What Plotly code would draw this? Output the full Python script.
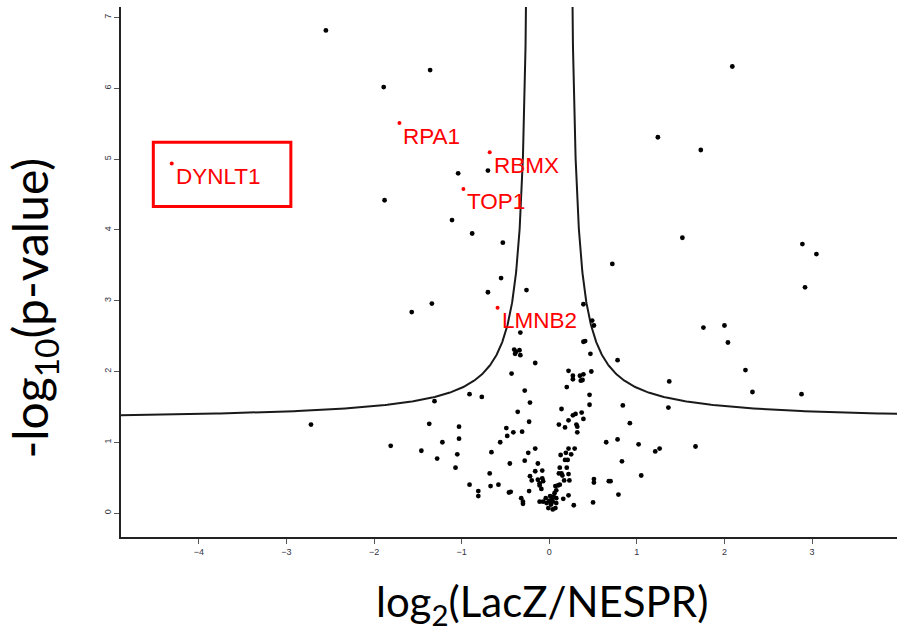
import numpy as np
import plotly.graph_objects as go

# log2 fold change (LacZ / NESPR) and -log10 p-value for every protein
log2_fc = [
    -2.55, -1.36, -1.89, 2.09, 1.24, 1.73, 1.52, 0.72, 2.89, 3.05, 2.92,
    -1.04, -0.70, -1.88, -1.11, -0.88, -0.53, -0.55, -0.70, -0.26, -1.34, -1.57,
    0.39, 0.49, 0.51, -0.33, 0.39, 0.41,
    1.76, 2.00, 2.04, 0.78, 2.24, 2.32, 1.37, 2.88, 0.84, 1.36, 1.67,
    -0.40, -0.38, -0.34, -0.39, -0.33,
    0.47, -0.16, -0.43, 0.22, 0.48,
    0.27, 0.27, 0.35, 0.39, 0.36, 0.38,
    0.20, -0.28, 0.46, -0.91, -0.77, -1.31, -0.22, 0.46, 0.14, -0.36,
    0.27, 0.30, 0.37, 0.39,
    -0.23, 0.11, 0.18, 0.22, 0.31, 0.32, 0.32, 0.92, -1.37, -1.03,
    -0.49, -0.48, -0.41, -0.31,
    -1.03, -1.22, -0.56, 0.65, 0.78, 1.02, 1.26, 1.21,
    -1.46, -1.28, -1.05, -1.07, -0.66, -0.16, -0.24, -0.28, -0.45,
    0.22, 0.29, 0.19, 0.25, 0.13,
    0.18, 0.21, 0.12, 0.20,
    0.83, -0.13, -0.68,
    -0.16, -0.08, -0.22, -0.20, -0.13, -0.11, -0.07, -0.11, -0.09, -0.08, -0.23,
    0.11, 0.14, 0.15, 0.22, 0.17, 0.23,
    0.51, 0.51, 0.68, 0.70, 1.05,
    -0.91, -0.67, -0.58, -0.81, -0.81, -0.46, -0.44, -0.32, -0.30, -0.30,
    0.07, 0.10, 0.12, 0.08, 0.06, 0.05, 0.08, 0.03, 0.00, 0.04,
    -0.03, 0.02, -0.01, 0.04, 0.07, 0.08, -0.07, -0.11, -0.04, 0.01,
    0.16, 0.22, 0.28, 0.50, 0.79,
    -2.72, -1.81,
]
neg_log10_p = [
    6.82, 6.26, 6.02, 6.31, 5.31, 5.13, 3.89, 3.52, 3.80, 3.66, 3.19,
    4.80, 4.84, 4.42, 4.14, 3.95, 3.82, 3.32, 3.12, 3.15, 2.96, 2.84,
    2.95, 2.72, 2.65, 2.55, 2.42, 2.43,
    2.62, 2.65, 2.41, 2.16, 2.02, 1.71, 1.86, 1.68, 1.52, 1.49, 0.94,
    2.31, 2.28, 2.30, 2.25, 2.23,
    2.25, 2.12, 1.97, 2.01, 2.00,
    1.94, 1.89, 1.94, 1.96, 1.87, 1.88,
    1.78, 1.73, 1.67, 1.68, 1.64, 1.58, 1.56, 1.53, 1.47, 1.43,
    1.38, 1.40, 1.42, 1.33,
    1.29, 1.25, 1.21, 1.31, 1.25, 1.22, 1.14, 1.27, 1.26, 1.22,
    1.20, 1.09, 1.14, 1.15,
    1.05, 1.00, 1.00, 1.00, 1.04, 0.97, 0.91, 0.87,
    0.88, 0.77, 0.83, 0.64, 0.86, 0.91, 0.85, 0.74, 0.70,
    0.91, 0.91, 0.85, 0.83, 0.82,
    0.75, 0.75, 0.64, 0.64,
    0.73, 0.70, 0.56,
    0.59, 0.60, 0.52, 0.46, 0.47, 0.42, 0.45, 0.39, 0.34, 0.49, 0.31,
    0.56, 0.56, 0.53, 0.55, 0.46, 0.46,
    0.48, 0.43, 0.45, 0.45, 0.53,
    0.40, 0.38, 0.40, 0.31, 0.24, 0.29, 0.30, 0.21, 0.16, 0.13,
    0.38, 0.39, 0.40, 0.32, 0.28, 0.23, 0.21, 0.20, 0.17, 0.16,
    0.14, 0.12, 0.07, 0.05, 0.07, 0.14, 0.16, 0.16, 0.21, 0.24,
    0.20, 0.25, 0.11, 0.15, 0.26,
    1.25, 0.95,
]

# Highlighted hits
hit_names = ["DYNLT1", "RPA1", "RBMX", "TOP1", "LMNB2"]
hit_fc = [-4.31, -1.71, -0.68, -0.98, -0.59]
hit_p = [4.94, 5.51, 5.10, 4.58, 2.90]

# Significance threshold curve: y = y0 + c / (|x| - x0)
y0 = -np.log10(0.05)
x0 = 0.20
c_curve = 0.375

x_range = [-4.889, 3.970]
y_range = [-0.339, 7.151]
x_ticks = [-4, -3, -2, -1, 0, 1, 2, 3]
y_ticks = [0, 1, 2, 3, 4, 5, 6, 7]

fig = go.Figure()

# threshold curve, both branches
d = np.geomspace(1e-3, 5.0, 600)   # |x| - x0
yc = y0 + c_curve / d
xr = x0 + d
order = np.argsort(xr)
for sign in (-1, 1):
    fig.add_trace(go.Scatter(
        x=sign * xr[order], y=yc[order], mode="lines",
        line=dict(color="#1a1a1a", width=2), hoverinfo="skip",
        showlegend=False, cliponaxis=True,
    ))

fig.add_trace(go.Scatter(
    x=log2_fc, y=neg_log10_p, mode="markers",
    marker=dict(color="black", size=4.8, line=dict(width=0)),
    showlegend=False,
))
fig.add_trace(go.Scatter(
    x=hit_fc, y=hit_p, mode="markers",
    marker=dict(color="#ff0000", size=4, line=dict(width=0)),
    showlegend=False,
))

for name, hx, hy in zip(hit_names, hit_fc, hit_p):
    fig.add_annotation(
        x=hx, y=hy, xref="x", yref="y", text=name, showarrow=False,
        xanchor="left", yanchor="middle", xshift=2, yshift=-13,
        font=dict(family="Liberation Sans, Arial", size=22.5, color="#ff0000"),
    )

# box around the strongest hit
fig.add_shape(
    type="rect", xref="x", yref="y",
    x0=hit_fc[0] - 0.21, x1=hit_fc[0] + 1.36,
    y0=hit_p[0] - 0.61, y1=hit_p[0] + 0.30,
    line=dict(color="#ff0000", width=3),
)

# axis titles
fig.add_annotation(
    text="-log<sub>10</sub>(p-value)", xref="paper", yref="paper",
    x=-0.1134, y=0.431, showarrow=False, textangle=-90,
    xanchor="center", yanchor="middle",
    font=dict(family="Lato", size=48, color="black"),
)
fig.add_annotation(
    text="log<sub>2</sub>(LacZ/NESPR)", xref="paper", yref="paper",
    x=0.5425, y=-0.126, showarrow=False,
    xanchor="center", yanchor="middle",
    font=dict(family="Lato", size=42, color="black"),
)

axis_common = dict(
    showgrid=False, zeroline=False, showline=True, linecolor="#222222",
    linewidth=1.5, ticks="outside", ticklen=5, tickwidth=1, tickcolor="#555555",
    tickfont=dict(family="Liberation Sans, Arial", size=9, color="#333344"),
)
fig.update_xaxes(range=x_range, tickvals=x_ticks, **axis_common)
fig.update_yaxes(range=y_range, tickvals=y_ticks, tickangle=-90, **axis_common)

fig.update_layout(
    width=897, height=632,
    margin=dict(l=121, r=0, t=7, b=95),
    plot_bgcolor="white", paper_bgcolor="white",
)

fig.write_html("out.html")
